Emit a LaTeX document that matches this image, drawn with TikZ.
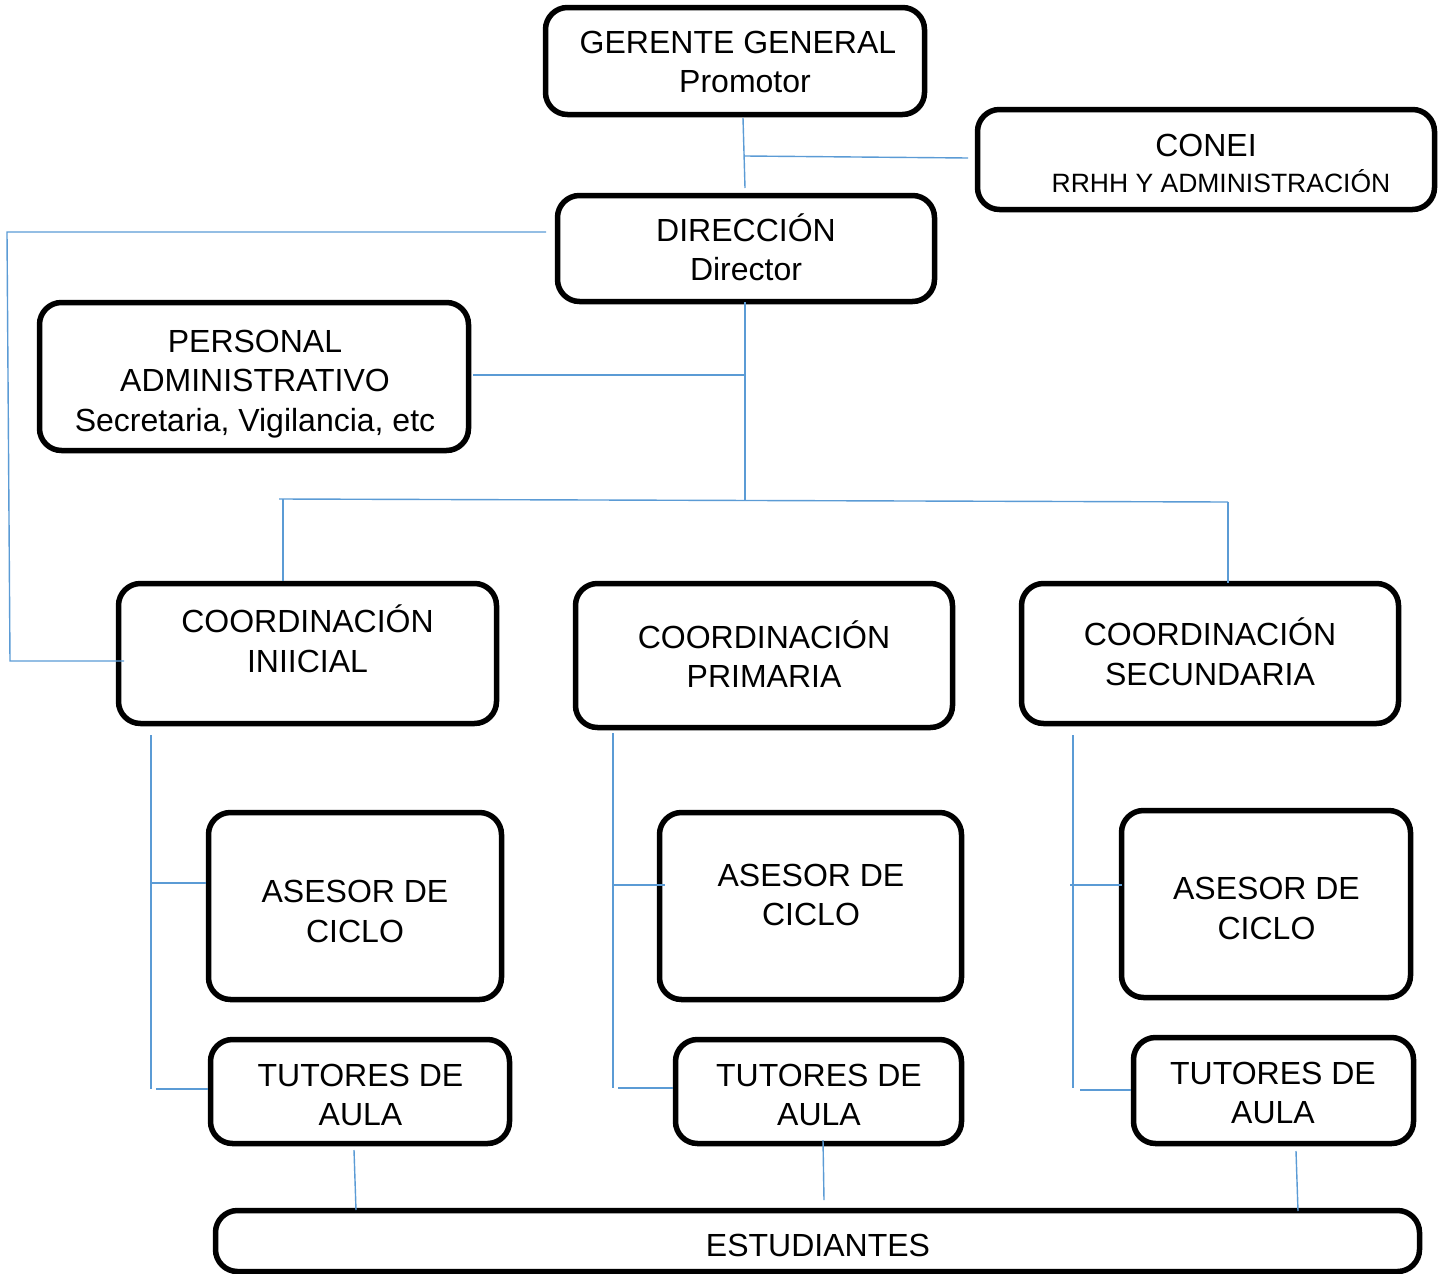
\documentclass[tikz,border=0pt]{standalone}
\usepackage{fontspec}
\setmainfont{Liberation Sans}
\definecolor{linkblue}{RGB}{91,155,213}
\begin{document}
\begin{tikzpicture}[x=1pt,y=-1pt,
  box/.style={draw=black, line width=5.5pt, rounded corners=22pt, inner sep=0pt},
  txt/.style={align=center, inner sep=0pt, font=\fontsize{32}{39.5}\selectfont},
  small/.style={align=center, inner sep=0pt, font=\fontsize{26.5}{32}\selectfont},
  link/.style={draw=linkblue, line width=1.4pt}]
\useasboundingbox (0,0) rectangle (1443,1274);

% boxes
\node[box, minimum width=379pt, minimum height=107pt] (g) at (735,61) {};
\node[box, minimum width=457pt, minimum height=100pt] (c) at (1206,159.5) {};
\node[box, minimum width=377pt, minimum height=106pt] (d) at (746,248.5) {};
\node[box, minimum width=429pt, minimum height=148pt] (p) at (254,376.5) {};
\node[box, minimum width=378pt, minimum height=140pt] (ci) at (307.5,653.5) {};
\node[box, minimum width=377pt, minimum height=144pt] (cp) at (764,655.5) {};
\node[box, minimum width=377pt, minimum height=140pt] (cs) at (1210,653.5) {};
\node[box, minimum width=293pt, minimum height=187pt] (a1) at (355,906) {};
\node[box, minimum width=302pt, minimum height=187pt] (a2) at (810.5,906) {};
\node[box, minimum width=289pt, minimum height=187pt] (a3) at (1266,904) {};
\node[box, minimum width=299pt, minimum height=104pt] (t1) at (360,1091.5) {};
\node[box, minimum width=286pt, minimum height=104pt] (t2) at (818.5,1091.5) {};
\node[box, minimum width=280pt, minimum height=106pt] (t3) at (1273.5,1090.5) {};
\node[box, minimum width=1204pt, minimum height=61pt] (e) at (817.5,1241) {};

% texts
\node[txt] (gt) at (738,62) {GERENTE GENERAL\\\hspace*{14pt}Promotor};
\node[txt] (ct1) at (1206,145) {CONEI};
\node[small] (ct2) at (1221,181) {RRHH Y ADMINISTRACIÓN};
\node[txt] (dt) at (746,247.5) {DIRECCIÓN\\Director};
\node[txt] (pt) at (255,384) {PERSONAL\\ADMINISTRATIVO\\Secretaria, Vigilancia, etc};
\node[txt] (cit) at (307.5,639) {COORDINACIÓN\\INIICIAL};
\node[txt] (cpt) at (764,654) {COORDINACIÓN\\PRIMARIA};
\node[txt] (cst) at (1210,652) {COORDINACIÓN\\SECUNDARIA};
\node[txt] (a1t) at (355,911.5) {ASESOR DE\\CICLO};
\node[txt] (a2t) at (811,895) {ASESOR DE\\CICLO};
\node[txt] (a3t) at (1266.5,908.5) {ASESOR DE\\CICLO};
\node[txt] (t1t) at (360.5,1095) {TUTORES DE\\AULA};
\node[txt] (t2t) at (819,1095) {TUTORES DE\\AULA};
\node[txt] (t3t) at (1273,1093) {TUTORES DE\\AULA};
\node[txt] (et) at (818,1245) {ESTUDIANTES};

% connector points
\coordinate (gB) at (743,118);
\coordinate (dT) at (745,188);
\coordinate (cJ) at (745,156);
\coordinate (cW) at (968,158);
\coordinate (dL) at (546,232);
\coordinate (l1) at (7,232);
\coordinate (l2) at (10,661);
\coordinate (l3) at (124,661);
\coordinate (dB) at (745,302);
\coordinate (tJ) at (745,500);
\coordinate (pE) at (473,375);
\coordinate (pJ) at (745,375);
\coordinate (h1) at (279,499);
\coordinate (h2) at (1228,502);
\coordinate (h1a) at (283,499);
\coordinate (ciT) at (283,581);
\coordinate (csT) at (1228,583);
% left column
\coordinate (v1a) at (151,735);
\coordinate (v1b) at (151,1089);
\coordinate (v1j) at (151,883);
\coordinate (a1W) at (206,883);
\coordinate (v1k) at (156,1089);
\coordinate (t1W) at (208,1089);
% middle column
\coordinate (v2a) at (613,733);
\coordinate (v2b) at (613,1088);
\coordinate (v2j) at (613,885);
\coordinate (a2W) at (665,885);
\coordinate (v2k) at (618,1088);
\coordinate (t2W) at (673,1088);
% right column
\coordinate (v3a) at (1073,735);
\coordinate (v3b) at (1073,1088);
\coordinate (v3j) at (1070,885);
\coordinate (a3W) at (1122,885);
\coordinate (v3k) at (1080,1090);
\coordinate (t3W) at (1131,1090);
% tutors to students
\coordinate (t1B) at (354,1150);
\coordinate (e1) at (356,1210);
\coordinate (t2B) at (823,1140);
\coordinate (e2) at (824,1200);
\coordinate (t3B) at (1296,1151);
\coordinate (e3) at (1298,1211);

% connectors
\draw[link] (gB) -- (dT);
\draw[link] (cJ) -- (cW);
\draw[link] (dL) -- (l1) -- (l2) -- (l3);
\draw[link] (dB) -- (tJ);
\draw[link] (pE) -- (pJ);
\draw[link] (h1) -- (h2);
\draw[link] (h1a) -- (ciT);
\draw[link] (h2) -- (csT);
\draw[link] (v1a) -- (v1b);
\draw[link] (v1j) -- (a1W);
\draw[link] (v1k) -- (t1W);
\draw[link] (v2a) -- (v2b);
\draw[link] (v2j) -- (a2W);
\draw[link] (v2k) -- (t2W);
\draw[link] (v3a) -- (v3b);
\draw[link] (v3j) -- (a3W);
\draw[link] (v3k) -- (t3W);
\draw[link] (t1B) -- (e1);
\draw[link] (t2B) -- (e2);
\draw[link] (t3B) -- (e3);
\end{tikzpicture}
\end{document}
